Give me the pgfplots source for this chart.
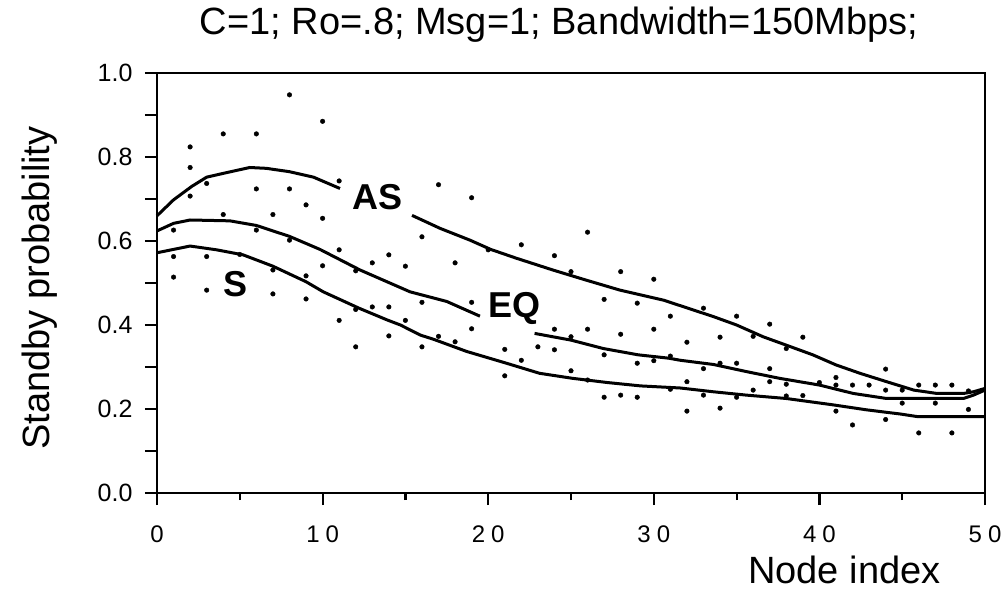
\documentclass[border=0pt]{standalone}
\usepackage{fontspec}
\setmainfont{Liberation Sans}
\usepackage{pgfplots}
\usepackage{pgfplotstable}
\pgfplotsset{compat=1.18}

% scattered simulation points
\pgfplotstableread{
x y
1 0.626
1 0.563
1 0.514
2 0.824
2 0.775
2 0.707
3 0.737
3 0.563
3 0.483
4 0.855
4 0.663
5 0.568
6 0.855
6 0.724
6 0.626
7 0.663
7 0.531
7 0.474
8 0.948
8 0.724
8 0.602
9 0.686
9 0.517
9 0.462
10 0.885
10 0.654
10 0.541
11 0.743
11 0.579
11 0.411
12 0.529
12 0.437
12 0.348
13 0.548
13 0.443
14 0.567
14 0.443
14 0.374
15 0.540
15 0.411
16 0.610
16 0.454
16 0.348
17 0.734
17 0.373
18 0.548
18 0.360
19 0.703
19 0.454
19 0.391
20 0.579
21 0.342
21 0.279
22 0.591
22 0.316
23 0.348
24 0.565
24 0.390
24 0.341
25 0.527
25 0.372
25 0.291
26 0.621
26 0.390
26 0.269
27 0.461
27 0.329
27 0.228
28 0.527
28 0.378
28 0.233
29 0.452
29 0.309
29 0.228
30 0.509
30 0.390
30 0.315
31 0.421
31 0.326
31 0.247
32 0.359
32 0.265
32 0.195
33 0.440
33 0.296
33 0.233
34 0.371
34 0.309
34 0.202
35 0.421
35 0.309
35 0.228
36 0.373
36 0.245
37 0.402
37 0.296
37 0.265
38 0.344
38 0.259
38 0.231
39 0.371
39 0.232
40 0.263
41 0.275
41 0.257
41 0.195
42 0.257
42 0.162
43 0.257
44 0.295
44 0.245
44 0.175
45 0.245
45 0.214
46 0.257
46 0.143
47 0.257
47 0.214
48 0.257
48 0.143
49 0.199
49 0.243
}\points

\begin{document}
\begin{tikzpicture}
\begin{axis}[
  name=ax,
  at={(0,0)}, anchor=south west,
  scale only axis,
  width=828bp, height=420bp,
  xmin=0, xmax=50, ymin=0, ymax=1,
  clip=false,
  axis line style={line width=2.5bp},
  tick align=outside,
  xtick pos=bottom, ytick pos=left,
  xtick={0,10,20,30,40,50},
  xticklabels={0,{1\hspace{6bp}0},{2\hspace{6bp}0},{3\hspace{6bp}0},{4\hspace{6bp}0},{5\hspace{6bp}0}},
  minor xtick={5,15,25,35,45},
  ytick={0,0.1,0.2,0.3,0.4,0.5,0.6,0.7,0.8,0.9,1},
  yticklabels={0.0,,0.2,,0.4,,0.6,,0.8,,1.0},
  major tick length=12bp,
  minor tick length=7bp,
  every tick/.style={line width=2.2bp, black},
  every minor tick/.style={line width=2.2bp, black},
  xticklabel style={font=\fontsize{24bp}{27bp}\selectfont, yshift=-17bp},
  yticklabel style={font=\fontsize{25bp}{28bp}\selectfont, xshift=-9bp},
  every axis title/.style={at={(0.5,1)}, anchor=base, yshift=38bp, xshift=-12bp,
    font=\fontsize{38bp}{44bp}\selectfont},
  title={C=1; Ro=.8; Msg=1; Bandwidth=150Mbps;},
  every axis x label/.style={at={(rel axis cs:1,0)}, anchor=base east,
    xshift=-41bp, yshift=-90bp, font=\fontsize{38bp}{44bp}\selectfont},
  xlabel={Node index},
]
\addplot[only marks, mark=*, mark size=2.3bp, black] table {\points};

% AS
\addplot[black, line width=3bp] coordinates {
  (0,0.660) (1,0.698) (2.1,0.730) (3,0.752) (4,0.761) (5.6,0.775)
  (6.6,0.773) (8,0.765) (9.45,0.752) (11.05,0.725)
};
\addplot[black, line width=3bp] coordinates {
  (15.4,0.661) (17.1,0.630) (18.9,0.602) (20.15,0.580) (21.7,0.559)
  (23.9,0.531) (25.9,0.507) (27.96,0.483) (30.6,0.459) (31.6,0.446)
  (33.6,0.420) (35,0.400) (36.6,0.372) (38,0.352) (39.6,0.329)
  (41,0.305) (42.45,0.285) (44.06,0.265) (45.7,0.245) (47.1,0.237)
  (48.7,0.237) (49.3,0.241) (50,0.249)
};
% EQ
\addplot[black, line width=3bp] coordinates {
  (0,0.624) (1,0.642) (2,0.650) (4.4,0.648) (6,0.637) (8,0.611)
  (9.84,0.580) (12.26,0.531) (15.28,0.479) (17.5,0.456) (19.5,0.421)
};
\addplot[black, line width=3bp] coordinates {
  (22.8,0.380) (25,0.364) (26.95,0.344) (29.05,0.329) (30.9,0.321)
  (31.6,0.316) (33.6,0.306) (35.6,0.289) (37.6,0.273) (40,0.257)
  (42.05,0.237) (44.06,0.225) (45.7,0.225) (48.7,0.225) (49.3,0.233)
  (50,0.245)
};
% S
\addplot[black, line width=3bp] coordinates {
  (0,0.572) (1,0.580) (2,0.588) (3.6,0.579) (5.2,0.567) (7,0.540)
  (9,0.503) (10.04,0.479) (12.2,0.440) (13.9,0.412) (14.7,0.400)
  (15.9,0.376) (16.7,0.366) (18.7,0.337) (21.1,0.309) (23.1,0.285)
  (25.1,0.273) (27.2,0.263) (29.2,0.255) (31.6,0.250) (33.6,0.241)
  (35.6,0.233) (38,0.225) (40.8,0.210) (42.85,0.198) (44.9,0.188)
  (45.9,0.182) (50,0.182)
};

\node[anchor=base west, font=\bfseries\fontsize{36bp}{40bp}\selectfont, inner sep=0pt]
  at (axis cs:11.78,0.676) {AS};
\node[anchor=base west, font=\bfseries\fontsize{36bp}{40bp}\selectfont, inner sep=0pt]
  at (axis cs:19.99,0.417) {EQ};
\node[anchor=base west, font=\bfseries\fontsize{36bp}{40bp}\selectfont, inner sep=0pt]
  at (axis cs:3.99,0.467) {S};
\end{axis}

\node[rotate=90, anchor=base, font=\fontsize{38bp}{42bp}\selectfont, inner sep=0pt]
  at ([xshift=-107bp,yshift=-5bp]ax.west) {Standby probability};

\pgfresetboundingbox
\path[use as bounding box] (-157bp,-101bp) rectangle (849bp,493bp);
\end{tikzpicture}
\end{document}
